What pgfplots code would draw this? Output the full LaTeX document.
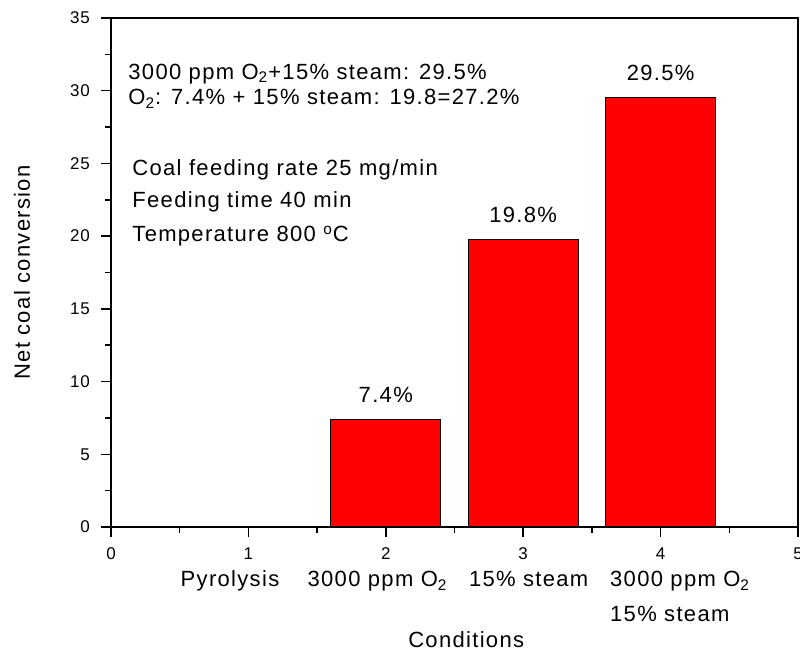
\documentclass[border=0pt]{standalone}
\usepackage{fontspec}
\setmainfont{Liberation Sans}[LetterSpace=6]
\usepackage{pgfplots}
\pgfplotsset{compat=1.18}
\begin{document}
\begin{tikzpicture}[x=1pt,y=1pt]
\useasboundingbox (-55.5,-62) rectangle (344.5,263.5);
\begin{axis}[
  scale only axis, width=343.5pt, height=254.5pt,
  at={(0,0)}, anchor=south west,
  xmin=0, xmax=5, ymin=0, ymax=35,
  xtick={0,1,2,3,4,5}, ytick={0,5,10,15,20,25,30,35},
  minor x tick num=1, minor y tick num=1,
  tick align=outside, tick pos=left,
  major tick length=5pt, minor tick length=3pt,
  axis line style={line width=0.75pt},
  every tick/.style={black, line width=0.75pt},
  every tick label/.append style={font=\fontsize{8.5}{9.5}\selectfont},
  yticklabel style={xshift=-2pt},
  xticklabel style={yshift=-2pt},
  /pgf/number format/assume math mode=true,
  ybar, bar width=0.8,
  clip=false,
  nodes near coords={\pgfmathprintnumber[fixed,precision=1,fixed zerofill]{\pgfplotspointmeta}\%},
  every node near coord/.style={anchor=base, yshift=8.5pt, font=\fontsize{11}{13}\selectfont, black},
]
\addplot[fill=red, draw=black, line width=0.5pt] coordinates {(2,7.4) (3,19.8) (4,29.5)};

\begin{scope}[every node/.style={font=\fontsize{11}{13}\selectfont, inner sep=0pt}]
\node[anchor=base west] at (axis cs:0.124,30.80) {3000 ppm O\textsubscript{2}+15\% steam: 29.5\%};
\node[anchor=base west] at (axis cs:0.124,29.02) {O\textsubscript{2}: 7.4\% + 15\% steam: 19.8=27.2\%};
\node[anchor=base west] at (axis cs:0.153,24.20) {Coal feeding rate 25 mg/min};
\node[anchor=base west] at (axis cs:0.153,22.00) {Feeding time 40 min};
\node[anchor=base west] at (axis cs:0.153,19.60) {Temperature 800 \textsuperscript{o}C};

\node[anchor=base] at (axis cs:0.866,0) [yshift=-30pt] {Pyrolysis};
\node[anchor=base] at (axis cs:1.94,0) [yshift=-30pt] {3000 ppm O\textsubscript{2}};
\node[anchor=base] at (axis cs:3.04,0) [yshift=-30pt] {15\% steam};
\node[anchor=base west] at (axis cs:3.63,0) [yshift=-30pt] {3000 ppm O\textsubscript{2}};
\node[anchor=base west] at (axis cs:3.63,0) [yshift=-47.5pt] {15\% steam};
\node[anchor=base] at (rel axis cs:0.517,0) [yshift=-60.5pt] {Conditions};
\node[rotate=90, anchor=center] at (rel axis cs:0,0.5) [yshift=44.5pt] {Net coal conversion};
\end{scope}
\end{axis}
\end{tikzpicture}
\end{document}
